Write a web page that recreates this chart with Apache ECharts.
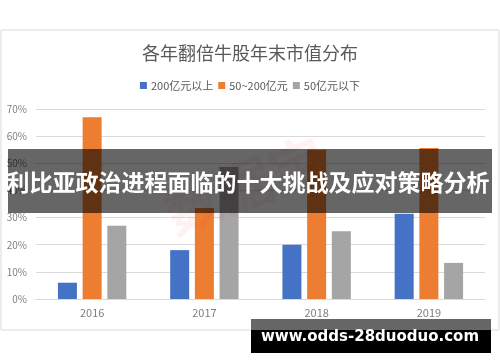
<!DOCTYPE html>
<html>
<head>
<meta charset="utf-8">
<script src="https://cdn.jsdelivr.net/npm/echarts@6/dist/echarts.min.js"></script>
<style>
html,body{margin:0;padding:0;background:#fff;}
#c{width:500px;height:362px;}
</style>
</head>
<body>
<div id="c"></div>
<script>
var categories = ['2016', '2017', '2018', '2019'];
var seriesNames = ['200亿元以上', '50~200亿元', '50亿元以下'];
var above200 = [6, 18, 20, 31.4];
var mid50to200 = [67, 33.5, 55, 55.6];
var below50 = [27, 48.6, 25, 13.3];
var yTicks = [0, 10, 20, 30, 40, 50, 60, 70];
var titleText = '各年翻倍牛股年末市值分布';
var bannerText = '利比亚政治进程面临的十大挑战及应对策略分析';
var watermarkText = '数据宝';
var urlText = 'www.odds-28duoduo.com';

var colors = ['#4472C4', '#ED7D31', '#A5A5A5'];
var cjk = '"Noto Sans CJK SC", "Noto Sans", sans-serif';

var chart = echarts.init(document.getElementById('c'), null, {renderer: 'canvas'});
var values = [above200, mid50to200, below50];
var series = values.map(function (v, i) {
  return {
    name: seriesNames[i],
    type: 'bar',
    data: v,
    barWidth: 19,
    barGap: '30%',
    itemStyle: {color: colors[i]},
    z: 2
  };
});

chart.setOption({
  animation: false,
  backgroundColor: '#fff',
  color: colors,
  title: {
    text: titleText,
    left: 'center',
    top: 39,
    textStyle: {fontFamily: cjk, fontSize: 18, fontWeight: 'normal', color: '#595959'}
  },
  legend: {
    left: 'center',
    top: 75,
    itemWidth: 7,
    itemHeight: 7,
    itemGap: 5,
    icon: 'rect',
    textStyle: {fontFamily: cjk, fontSize: 11, color: '#595959', padding: [0, 0, 0, -1]},
    data: seriesNames
  },
  grid: {left: 36, right: 15, top: 109, bottom: 63},
  xAxis: {
    type: 'category',
    data: categories,
    axisLine: {lineStyle: {color: '#d9d9d9', width: 1}},
    axisTick: {show: false},
    axisLabel: {color: '#7f7f7f', fontSize: 11, fontFamily: cjk, margin: 8}
  },
  yAxis: {
    type: 'value',
    min: yTicks[0],
    max: yTicks[yTicks.length - 1],
    interval: 10,
    axisLine: {show: false},
    axisTick: {show: false},
    splitLine: {lineStyle: {color: '#d9d9d9', width: 1}},
    axisLabel: {color: '#7f7f7f', fontSize: 10, fontFamily: cjk, margin: 9, formatter: '{value}%'}
  },
  series: series,
  graphic: [
    {
      type: 'rect', silent: true, z: 0,
      shape: {x: 1, y: 30, width: 498, height: 300},
      style: {fill: 'none', stroke: '#d9d9d9', lineWidth: 1}
    },
    {
      type: 'text', silent: true, z: 5,
      x: 245, y: 185, rotation: 21 * Math.PI / 180,
      style: {
        text: watermarkText, fill: 'rgba(230,40,40,0.06)',
        font: 'bold 56px ' + cjk, textAlign: 'center', textVerticalAlign: 'middle'
      }
    },
    {
      type: 'rect', silent: true, z: 10,
      shape: {x: 8, y: 149, width: 484, height: 64},
      style: {fill: 'rgba(0,0,0,0.6)'}
    },
    {
      type: 'text', silent: true, z: 11,
      x: 248, y: 182,
      style: {
        text: bannerText, fill: '#fff',
        font: 'bold 23px ' + cjk, textAlign: 'center', textVerticalAlign: 'middle'
      }
    },
    {
      type: 'rect', silent: true, z: 10,
      shape: {x: 251, y: 319, width: 240, height: 11},
      style: {fill: '#666666'}
    },
    {
      type: 'rect', silent: true, z: 10,
      shape: {x: 251, y: 330, width: 240, height: 23},
      style: {fill: '#000000'}
    },
    {
      type: 'text', silent: true, z: 11,
      x: 370, y: 337,
      style: {
        text: urlText, fill: '#fff',
        font: 'bold 15px "DejaVu Sans", sans-serif', textAlign: 'center', textVerticalAlign: 'middle'
      }
    }
  ]
});
</script>
</body>
</html>
